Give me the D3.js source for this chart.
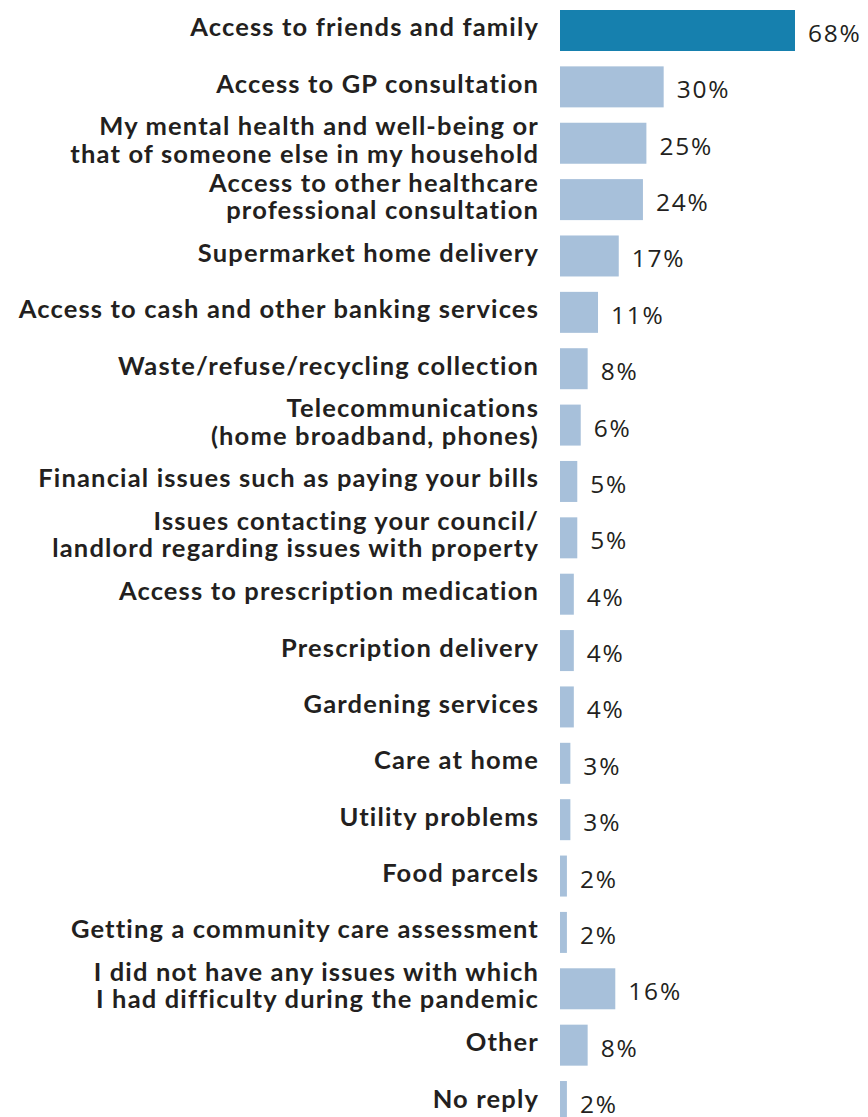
<!DOCTYPE html>
<html>
<head>
<meta charset="utf-8">
<script src="https://cdn.jsdelivr.net/npm/d3@7"></script>
<style>
  html, body { margin: 0; padding: 0; background: #ffffff; }
  svg { display: block; }
</style>
</head>
<body>
<svg id="chart" width="868" height="1117"></svg>
<script>
// Issues people had difficulty with during the pandemic (% of respondents)
const categories = [
  "Access to friends and family",
  "Access to GP consultation",
  "My mental health and well-being or\nthat of someone else in my household",
  "Access to other healthcare\nprofessional consultation",
  "Supermarket home delivery",
  "Access to cash and other banking services",
  "Waste/refuse/recycling collection",
  "Telecommunications\n(home broadband, phones)",
  "Financial issues such as paying your bills",
  "Issues contacting your council/\nlandlord regarding issues with property",
  "Access to prescription medication",
  "Prescription delivery",
  "Gardening services",
  "Care at home",
  "Utility problems",
  "Food parcels",
  "Getting a community care assessment",
  "I did not have any issues with which\nI had difficulty during the pandemic",
  "Other",
  "No reply"
];
const values = [68, 30, 25, 24, 17, 11, 8, 6, 5, 5, 4, 4, 4, 3, 3, 2, 2, 16, 8, 2];
const highlighted = ["Access to friends and family"];

const data = categories.map((c, i) => ({ key: c, lines: c.split("\n"), value: values[i] }));

const svg = d3.select("#chart");
const barLeft = 560;

const x = d3.scaleLinear().domain([0, 68]).range([0, 235]);
const y = d3.scaleBand()
  .domain(categories)
  .range([10, 10 + 19 * 56.37 + 41])
  .paddingInner(0.2727)
  .paddingOuter(0);

const rows = svg.append("g")
  .selectAll("g")
  .data(data)
  .join("g")
  .attr("transform", d => `translate(0,${y(d.key)})`);

const bw = y.bandwidth();

rows.append("rect")
  .attr("x", barLeft)
  .attr("y", 0)
  .attr("width", d => x(d.value))
  .attr("height", bw)
  .attr("fill", d => highlighted.includes(d.key) ? "#1680ae" : "#a7c0da");

// value labels to the right of each bar
rows.append("text")
  .attr("x", d => barLeft + x(d.value) + 13)
  .attr("y", bw / 2 + 11.5)
  .attr("font-family", "'Open Sans', sans-serif")
  .attr("font-size", 24.5)
  .attr("letter-spacing", "1.8px")
  .attr("fill", "#231f20")
  .text(d => d.value + "%");

// category labels, right-aligned against the bars
const labels = rows.append("text")
  .attr("text-anchor", "end")
  .attr("font-family", "Lato, sans-serif")
  .attr("font-weight", 700)
  .attr("font-size", 25.5)
  .attr("letter-spacing", "1.15px")
  .attr("fill", "#231f20");

labels.selectAll("tspan")
  .data(d => d.lines.map((t, i) => ({ t, i, n: d.lines.length })))
  .join("tspan")
  .attr("x", 539)
  .attr("y", l => l.n === 1 ? bw / 2 + 6 : bw / 2 + (l.i === 0 ? -8 : 19.5))
  .text(l => l.t);
</script>
</body>
</html>
